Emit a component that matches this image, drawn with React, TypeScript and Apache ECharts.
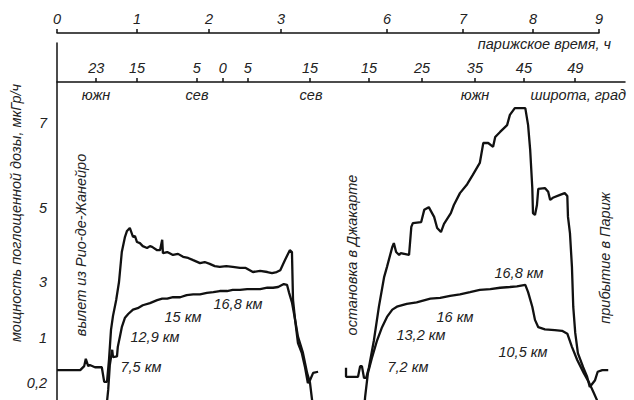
import React, { useEffect, useRef } from 'react';
import * as echarts from 'echarts';

// ---- data ----
const timeTicks = [0, 1, 2, 3, 6, 7, 8, 9];
const latTickLabels = ['23', '15', '5', '0', '5', '15', '15', '25', '35', '45', '49'];
const latTickTimes = [0.49, 1.0, 1.83, 2.19, 2.54, 3.82, 5.49, 6.46, 7.17, 7.87, 8.64];
const doseTicks = [0.2, 1, 3, 5, 7];
const doseTickLabels = ['0,2', '1', '3', '5', '7'];

// [Paris time, h ; dose rate, µGy/h]
const leftDose = [
  [0, 0.43], [0.29, 0.43], [0.34, 0.5], [0.36, 0.63], [0.39, 0.5], [0.41, 0.52], [0.475, 0.48], [0.56, 0.48],
  [0.59, 0.22], [0.625, 0.22], [0.65, 0.61], [0.675, 1.29], [0.7, 1.79], [0.74, 2.36], [0.775, 3.0], [0.81, 3.81],
  [0.85, 4.22], [0.875, 4.38], [0.91, 4.46], [0.95, 4.22], [0.975, 4.24], [1.0, 4.08], [1.04, 4.05], [1.08, 3.97],
  [1.14, 3.92], [1.18, 3.97], [1.21, 3.95], [1.28, 3.86], [1.32, 3.86], [1.35, 4.14], [1.36, 3.78], [1.42, 3.81],
  [1.5, 3.73], [1.57, 3.76], [1.64, 3.68], [1.71, 3.65], [1.78, 3.59], [1.875, 3.51], [1.94, 3.54], [2.01, 3.49],
  [2.08, 3.43], [2.15, 3.41], [2.24, 3.43], [2.33, 3.41], [2.43, 3.38], [2.51, 3.38], [2.61, 3.27], [2.71, 3.3],
  [2.81, 3.27], [2.875, 3.24], [2.94, 3.27], [2.99, 3.32], [3.11, 3.59], [3.25, 3.86], [3.31, 3.81], [3.34, 2.36],
  [3.4, 1.64], [3.48, 0.91], [3.59, 0.73], [3.68, 0.48], [3.76, 0.2], [3.82, 0.25], [3.91, 0.38], [4.05, 0.4],
];
// [Paris time, h ; altitude, km]
const leftAlt = [
  [0.61, -1.0], [0.64, 2.2], [0.66, 5.6], [0.69, 7.7], [0.7, 6.7], [0.75, 6.8], [0.76, 8.1], [0.79, 9.7],
  [0.81, 10.8], [0.85, 12.1], [0.89, 12.6], [0.95, 13.2], [1.01, 13.4], [1.08, 13.8], [1.18, 14.1], [1.28, 14.5],
  [1.35, 14.7], [1.42, 14.7], [1.5, 14.9], [1.6, 14.9], [1.69, 15.2], [1.78, 15.3], [1.875, 15.3], [1.97, 15.5],
  [2.06, 15.6], [2.15, 15.75], [2.25, 15.75], [2.33, 15.9], [2.43, 15.9], [2.53, 16.0], [2.61, 16.0], [2.71, 16.0],
  [2.81, 16.2], [2.89, 16.2], [2.96, 16.3], [3.08, 16.7], [3.17, 16.6], [3.23, 15.5], [3.31, 14.2], [3.4, 11.8],
  [3.48, 9.5], [3.62, 7.3], [3.74, 4.5], [3.82, 3.2], [3.88, 0.8], [3.91, -0.8],
];
const rightDose = [
  [4.84, 0.47], [4.84, 0.31], [5.18, 0.31], [5.24, 0.5], [5.29, 0.5], [5.35, 0.29], [5.41, 0.29], [5.49, 0.48],
  [5.63, 0.96], [5.77, 2.11], [5.92, 3.14], [6.0, 3.41], [6.07, 3.95], [6.09, 4.05], [6.12, 3.81], [6.16, 3.73],
  [6.18, 3.78], [6.29, 3.73], [6.32, 4.49], [6.34, 4.59], [6.45, 4.62], [6.49, 4.95], [6.55, 5.02], [6.58, 4.91],
  [6.62, 4.76], [6.66, 4.46], [6.71, 4.35], [6.75, 4.57], [6.84, 4.86], [6.88, 5.07], [6.96, 5.35], [7.06, 5.56],
  [7.14, 5.78], [7.24, 6.06], [7.29, 6.53], [7.36, 6.53], [7.43, 6.44], [7.46, 6.67], [7.53, 6.79], [7.63, 6.95],
  [7.67, 7.19], [7.74, 7.35], [7.89, 7.35], [7.93, 6.95], [7.96, 6.36], [7.99, 5.47], [8.0, 4.86], [8.03, 4.81],
  [8.06, 5.07], [8.08, 5.45], [8.18, 5.47], [8.23, 5.38], [8.26, 5.19], [8.3, 5.24], [8.41, 5.31], [8.48, 5.35],
  [8.52, 5.28], [8.53, 4.76], [8.56, 4.32], [8.59, 3.41], [8.61, 2.11], [8.64, 1.18], [8.68, 0.73], [8.76, 0.48],
  [8.82, 0.31], [8.86, 0.13], [8.94, 0.25], [8.98, 0.4], [9.05, 0.43], [9.14, 0.43],
];
const rightAlt = [
  [5.35, -0.8], [5.38, 1.2], [5.46, 4.5], [5.58, 6.7], [5.72, 9.0], [5.86, 10.8], [6.0, 12.2], [6.07, 13.2],
  [6.13, 13.6], [6.26, 14.0], [6.39, 14.2], [6.57, 14.7], [6.7, 14.8], [6.83, 15.1], [6.96, 15.3], [7.1, 15.6],
  [7.24, 15.9], [7.39, 16.0], [7.53, 16.2], [7.67, 16.3], [7.77, 16.4], [7.89, 16.6], [7.93, 15.6], [7.99, 13.6],
  [8.03, 11.8], [8.08, 10.8], [8.18, 10.5], [8.33, 10.4], [8.44, 10.3], [8.52, 9.9], [8.59, 8.1], [8.67, 6.3],
  [8.77, 4.5], [8.85, 3.2], [8.92, 1.8], [8.97, 0.8], [9.0, -0.5],
];

// ---- broken / irregular axis scales (axis units) ----
const TIME_SCALE_POS = [0, 80, 152, 224, 330, 406, 476, 542];
const DOSE_SCALE_POS = [17, 62, 118, 192, 277];

function interp(v: number, xs: number[], ys: number[]) {
  let i = 0;
  if (v <= xs[0]) i = 0;
  else if (v >= xs[xs.length - 1]) i = xs.length - 2;
  else while (v > xs[i + 1]) i++;
  const x0 = xs[i], x1 = xs[i + 1], y0 = ys[i], y1 = ys[i + 1];
  return y0 + ((v - x0) * (y1 - y0)) / (x1 - x0);
}
const tToU = (t: number) => interp(t, timeTicks, TIME_SCALE_POS);
const doseToU = (d: number) => interp(d, doseTicks, DOSE_SCALE_POS);

function nearestLabel(v: number, vals: number[], labels: string[]) {
  let best = 0;
  for (let i = 1; i < vals.length; i++) if (Math.abs(vals[i] - v) < Math.abs(vals[best] - v)) best = i;
  return labels[best];
}

const FONT = '"Liberation Sans", Arial, sans-serif';
const INK = '#111';
const TXT = '#222';
const FS = 14.5;

export default function App() {
  const ref = useRef<HTMLDivElement>(null);
  useEffect(() => {
    if (!ref.current) return;
    const chart = echarts.init(ref.current, undefined, { renderer: 'svg' });

    const timeU = timeTicks.map(tToU);
    const latU = latTickTimes.map(tToU);
    const doseU = doseTicks.map(doseToU);
    const timeLabels = timeTicks.map(String);

    const labelStyle = { color: TXT, fontStyle: 'italic', fontFamily: FONT, fontSize: FS };
    const txt = (text: string, x: number, y: number, extra: any = {}) => ({
      type: 'text',
      x,
      y,
      silent: true,
      style: {
        text,
        fill: TXT,
        fontStyle: 'italic',
        fontFamily: FONT,
        fontSize: FS,
        align: 'center',
        verticalAlign: 'middle',
        ...(extra.style || {}),
      },
      ...(extra.rotation ? { rotation: extra.rotation } : {}),
    });

    const line = (data: number[][], yIdx: number, conv: (v: number) => number) => ({
      type: 'line',
      xAxisIndex: 2,
      yAxisIndex: yIdx,
      data: data.map((p) => [tToU(p[0]), conv(p[1])]),
      symbol: 'none',
      lineStyle: { color: INK, width: 2.3 },
      clip: true,
      silent: true,
    });

    chart.setOption({
      animation: false,
      backgroundColor: '#fff',
      grid: [
        { left: 57, right: 35, top: 32, height: 1, containLabel: false, outerBoundsMode: 'none' },
        { left: 57, right: 9, top: 81, height: 1, containLabel: false, outerBoundsMode: 'none' },
        { left: 57, right: 9, top: 43, bottom: 0, containLabel: false, outerBoundsMode: 'none' },
      ],
      xAxis: [
        {
          gridIndex: 0,
          type: 'value',
          position: 'top',
          min: 0,
          max: 542,
          splitLine: { show: false },
          axisLine: { show: true, lineStyle: { color: INK, width: 1.5 } },
          axisTick: { show: true, customValues: timeU, length: 4, lineStyle: { color: INK, width: 1.5 } },
          axisLabel: {
            ...labelStyle,
            margin: 6,
            customValues: timeU,
            formatter: (v: number) => nearestLabel(v, timeU, timeLabels),
          },
        },
        {
          gridIndex: 1,
          type: 'value',
          position: 'top',
          min: 0,
          max: 568,
          splitLine: { show: false },
          axisLine: { show: true, lineStyle: { color: INK, width: 1.5 } },
          axisTick: { show: true, customValues: latU, length: 4, lineStyle: { color: INK, width: 1.5 } },
          axisLabel: {
            ...labelStyle,
            margin: 6,
            customValues: latU,
            formatter: (v: number) => nearestLabel(v, latU, latTickLabels),
          },
        },
        { gridIndex: 2, type: 'value', min: 0, max: 568, show: false },
      ],
      yAxis: [
        { gridIndex: 0, type: 'value', min: 0, max: 1, show: false },
        { gridIndex: 1, type: 'value', min: 0, max: 1, show: false },
        {
          gridIndex: 2,
          type: 'value',
          min: 0,
          max: 357,
          splitLine: { show: false },
          axisLine: { show: true, lineStyle: { color: INK, width: 1.5 } },
          axisTick: { show: false },
          axisLabel: {
            ...labelStyle,
            margin: 10,
            customValues: doseU,
            formatter: (v: number) => nearestLabel(v, doseU, doseTickLabels),
          },
        },
        { gridIndex: 2, type: 'value', min: 0.82, max: 49.73, show: false },
      ],
      series: [
        line(leftDose, 2, doseToU),
        line(leftAlt, 3, (v) => v),
        line(rightDose, 2, doseToU),
        line(rightAlt, 3, (v) => v),
      ],
      graphic: [
        txt('парижское время, ч', 611, 44, { style: { align: 'right' } }),
        txt('южн', 96, 95),
        txt('сев', 197, 95),
        txt('сев', 311, 95),
        txt('южн', 475, 95),
        txt('широта, град', 626, 95, { style: { align: 'right' } }),
        txt('мощность поглощенной дозы, мкГр/ч', 16, 213, { rotation: Math.PI / 2 }),
        txt('вылет из Рио-де-Жанейро', 81, 245, { rotation: Math.PI / 2 }),
        txt('остановка в Джакарте', 352, 255, { rotation: Math.PI / 2 }),
        txt('прибытие в Париж', 605, 258, { rotation: Math.PI / 2 }),
        txt('7,5 км', 141, 367),
        txt('12,9 км', 155, 337),
        txt('15 км', 183, 317),
        txt('16,8 км', 238, 304),
        txt('7,2 км', 408, 367),
        txt('13,2 км', 421, 335),
        txt('16 км', 455, 317),
        txt('16,8 км', 519, 273),
        txt('10,5 км', 523, 352),
      ],
    });
    return () => chart.dispose();
  }, []);

  return (
    <div
      ref={ref}
      style={{ position: 'fixed', left: 0, top: 0, width: 634, height: 400, background: '#fff' }}
    />
  );
}
